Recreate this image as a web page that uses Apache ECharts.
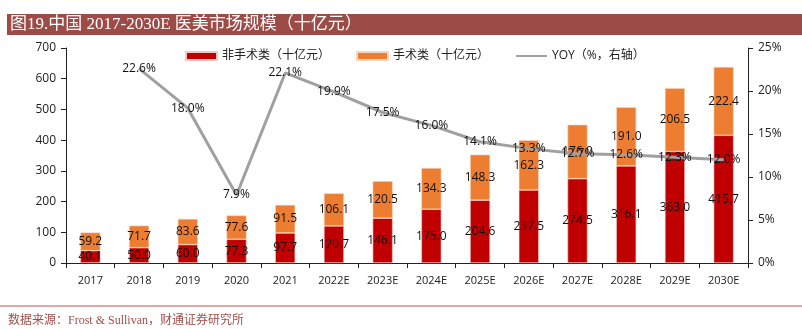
<!DOCTYPE html>
<html>
<head>
<meta charset="utf-8">
<script src="https://cdn.jsdelivr.net/npm/echarts@6/dist/echarts.min.js"></script>
<style>
  html, body { margin: 0; padding: 0; background: #fff; }
  #chart { width: 802px; height: 329px; }
</style>
</head>
<body>
<div id="chart"></div>
<script>
// 中国医美市场规模（十亿元）
const categories = ['2017', '2018', '2019', '2020', '2021', '2022E', '2023E', '2024E', '2025E', '2026E', '2027E', '2028E', '2029E', '2030E'];
const nonSurgical = [40.1, 50.0, 60.0, 77.3, 97.7, 120.7, 146.1, 175.0, 204.6, 237.5, 274.5, 316.1, 363.0, 415.7];
const surgical = [59.2, 71.7, 83.6, 77.6, 91.5, 106.1, 120.5, 134.3, 148.3, 162.3, 176.0, 191.0, 206.5, 222.4];
const yoy = [null, 22.6, 18.0, 7.9, 22.1, 19.9, 17.5, 16.0, 14.1, 13.3, 12.7, 12.6, 12.3, 12.0];
const leftTicks = [0, 100, 200, 300, 400, 500, 600, 700];
const rightTicks = [0, 5, 10, 15, 20, 25];

const chart = echarts.init(document.getElementById('chart'), null, { renderer: 'canvas' });
const sans = '"Open Sans", "Noto Sans CJK SC", sans-serif';
const serif = '"Liberation Serif", "Noto Sans CJK SC", serif';

const barLabel = {
  show: true,
  position: 'inside',
  color: '#111',
  fontSize: 12,
  fontFamily: sans,
  formatter: p => p.value.toFixed(1)
};

chart.setOption({
  animation: false,
  backgroundColor: '#fff',
  graphic: [
    { type: 'rect', shape: { x: 7, y: 14, width: 795, height: 21 }, style: { fill: '#9c4b47' } },
    { type: 'text', x: 10, y: 25, style: { text: '图19.中国 2017-2030E 医美市场规模（十亿元）', fill: '#fff', font: '17px ' + serif, textVerticalAlign: 'middle' } },
    { type: 'line', shape: { x1: 0, y1: 306, x2: 802, y2: 306 }, style: { stroke: '#c0504d', lineWidth: 1 } },
    { type: 'text', x: 8, y: 321, style: { text: '数据来源：Frost & Sullivan，财通证券研究所', fill: '#a0504c', font: '12px ' + serif, textVerticalAlign: 'middle' } }
  ],
  legend: {
    top: 45,
    left: 180,
    itemGap: 26,
    itemWidth: 31,
    itemHeight: 8,
    textStyle: { fontSize: 12, color: '#222', fontFamily: sans },
    data: [
      { name: '非手术类（十亿元）', icon: 'rect' },
      { name: '手术类（十亿元）', icon: 'rect' },
      { name: 'YOY（%，右轴）', itemStyle: { color: 'transparent', borderWidth: 0 } }
    ]
  },
  grid: { left: 66, right: 54, top: 48, bottom: 66 },
  xAxis: {
    type: 'category',
    data: categories,
    axisLine: { lineStyle: { color: '#222' } },
    axisTick: { show: true, alignWithLabel: false, length: 5, lineStyle: { color: '#222' } },
    axisLabel: { color: '#222', fontSize: 11, fontFamily: sans, margin: 12, interval: 0 }
  },
  yAxis: [
    {
      type: 'value', min: leftTicks[0], max: leftTicks[leftTicks.length - 1], interval: 100,
      axisLine: { show: true, lineStyle: { color: '#222' } },
      axisTick: { show: true, length: 5, lineStyle: { color: '#222' } },
      splitLine: { show: false },
      axisLabel: { color: '#222', fontSize: 12, fontFamily: sans, margin: 10 }
    },
    {
      type: 'value', min: rightTicks[0], max: rightTicks[rightTicks.length - 1], interval: 5,
      position: 'right',
      axisLine: { show: true, lineStyle: { color: '#222' } },
      axisTick: { show: true, length: 5, lineStyle: { color: '#222' } },
      splitLine: { show: false },
      axisLabel: { color: '#222', fontSize: 12, fontFamily: sans, margin: 10, formatter: v => v + '%' }
    }
  ],
  series: [
    {
      name: '非手术类（十亿元）', type: 'bar', stack: 'total', barWidth: 20,
      data: nonSurgical,
      itemStyle: { color: '#c00000', borderColor: '#f4c7c3', borderWidth: 0.6 },
      label: barLabel
    },
    {
      name: '手术类（十亿元）', type: 'bar', stack: 'total', barWidth: 20,
      data: surgical,
      itemStyle: { color: '#ed7d31', borderColor: '#f8d5bd', borderWidth: 0.6 },
      label: barLabel
    },
    {
      name: 'YOY（%，右轴）', type: 'line', yAxisIndex: 1,
      data: yoy,
      symbol: 'circle',
      symbolSize: 1,
      showSymbol: true,
      lineStyle: { color: '#a0a0a0', width: 3 },
      itemStyle: { color: '#a0a0a0' },
      label: {
        show: true, position: 'inside', color: '#111', fontSize: 12, fontFamily: sans,
        formatter: p => p.value == null ? '' : p.value.toFixed(1) + '%'
      },
      labelLayout: { hideOverlap: false },
      z: 5
    }
  ]
});
</script>
</body>
</html>
